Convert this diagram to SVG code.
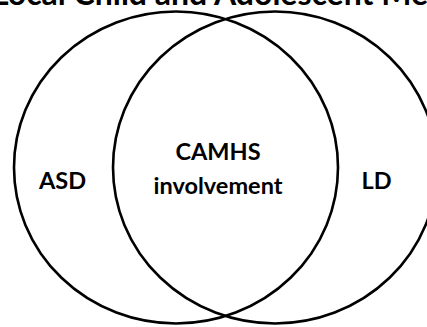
<svg xmlns="http://www.w3.org/2000/svg" width="427" height="327" viewBox="0 0 427 327">
  <style>
    .ring { fill: none; stroke: #000; stroke-width: 2.6; }
    .label { font-family: Lato, "Open Sans", sans-serif; font-weight: bold; font-size: 23.5px; fill: #000; text-anchor: middle; }
    .title { font-family: Lato, "Open Sans", sans-serif; font-weight: bold; font-size: 32px; fill: #000; }
  </style>
  <rect width="427" height="327" fill="#fff"/>
  <text class="title" x="-8" y="5">Local Child and Adolescent Mental</text>
  <g id="asd">
    <ellipse class="ring" cx="176" cy="167.5" rx="162" ry="156"/>
    <text class="label" x="62.5" y="189">ASD</text>
  </g>
  <g id="ld">
    <ellipse class="ring" cx="275" cy="167.5" rx="162" ry="156"/>
    <text class="label" x="376.5" y="189">LD</text>
  </g>
  <g id="camhs">
    <text class="label" x="218" y="160">CAMHS</text>
    <text class="label" x="218" y="194">involvement</text>
  </g>
  <g id="connectors"/>
</svg>
